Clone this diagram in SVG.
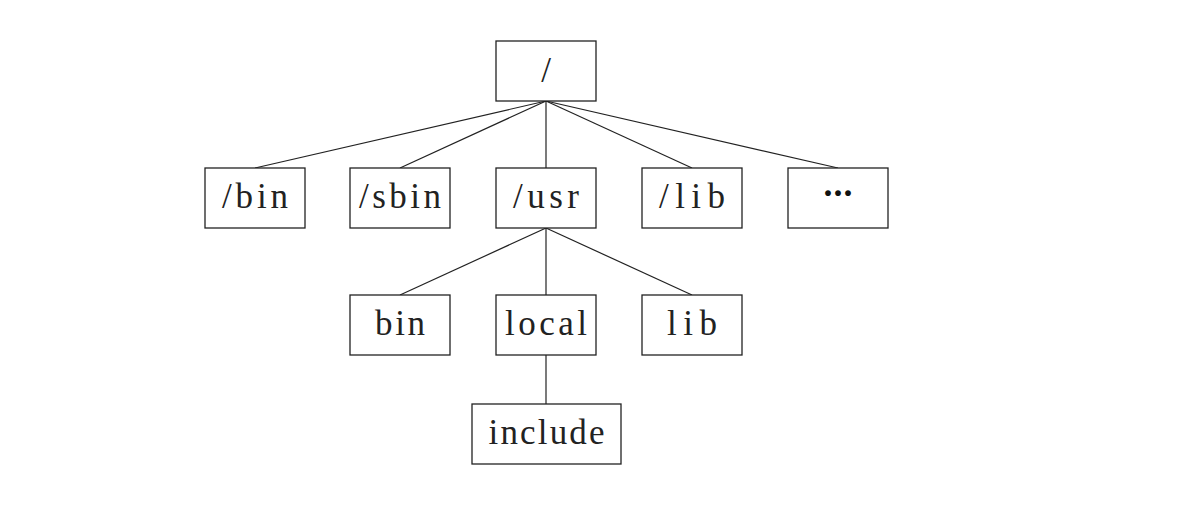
<svg xmlns="http://www.w3.org/2000/svg" width="1200" height="518" viewBox="0 0 1200 518">
  <style>
    .box { fill: #ffffff; stroke: #222222; stroke-width: 1.3; }
    .edge { stroke: #222222; stroke-width: 1.2; fill: none; }
    .lbl { font-family: "Liberation Serif", "DejaVu Serif", serif; font-size: 35px; fill: #222222; text-anchor: middle; }
    .dots { font-family: "Liberation Serif", "DejaVu Serif", serif; font-size: 36px; font-weight: bold; fill: #111111; text-anchor: middle; }
  </style>
  <rect width="1200" height="518" fill="#ffffff"/>
  <g id="connectors">
    <line class="edge" x1="546" y1="101" x2="255" y2="168"/>
    <line class="edge" x1="546" y1="101" x2="400" y2="168"/>
    <line class="edge" x1="546" y1="101" x2="546" y2="168"/>
    <line class="edge" x1="546" y1="101" x2="692" y2="168"/>
    <line class="edge" x1="546" y1="101" x2="838" y2="168"/>
    <line class="edge" x1="546" y1="228" x2="400" y2="295"/>
    <line class="edge" x1="546" y1="228" x2="546" y2="295"/>
    <line class="edge" x1="546" y1="228" x2="692" y2="295"/>
    <line class="edge" x1="546" y1="355" x2="546" y2="404"/>
  </g>
  <g id="root">
    <rect class="box" x="496" y="41" width="100" height="60"/>
    <text class="lbl" x="546" y="82">/</text>
  </g>
  <g id="bin">
    <rect class="box" x="205" y="168" width="100" height="60"/>
    <text class="lbl" x="255" y="208" textLength="66" lengthAdjust="spacing">/bin</text>
  </g>
  <g id="sbin">
    <rect class="box" x="350" y="168" width="100" height="60"/>
    <text class="lbl" x="400" y="208" textLength="82" lengthAdjust="spacing">/sbin</text>
  </g>
  <g id="usr">
    <rect class="box" x="496" y="168" width="100" height="60"/>
    <text class="lbl" x="546" y="208" textLength="66" lengthAdjust="spacing">/usr</text>
  </g>
  <g id="lib">
    <rect class="box" x="642" y="168" width="100" height="60"/>
    <text class="lbl" x="692" y="208" textLength="66" lengthAdjust="spacing">/lib</text>
  </g>
  <g id="more">
    <rect class="box" x="788" y="168" width="100" height="60"/>
    <text class="dots" x="838" y="205" textLength="32" lengthAdjust="spacing">···</text>
  </g>
  <g id="usr-bin">
    <rect class="box" x="350" y="295" width="100" height="60"/>
    <text class="lbl" x="400" y="335" textLength="50" lengthAdjust="spacing">bin</text>
  </g>
  <g id="usr-local">
    <rect class="box" x="496" y="295" width="100" height="60"/>
    <text class="lbl" x="546" y="335" textLength="82" lengthAdjust="spacing">local</text>
  </g>
  <g id="usr-lib">
    <rect class="box" x="642" y="295" width="100" height="60"/>
    <text class="lbl" x="692" y="335" textLength="50" lengthAdjust="spacing">lib</text>
  </g>
  <g id="include">
    <rect class="box" x="472" y="404" width="149" height="60"/>
    <text class="lbl" x="546.5" y="444" textLength="116" lengthAdjust="spacing">include</text>
  </g>
</svg>
